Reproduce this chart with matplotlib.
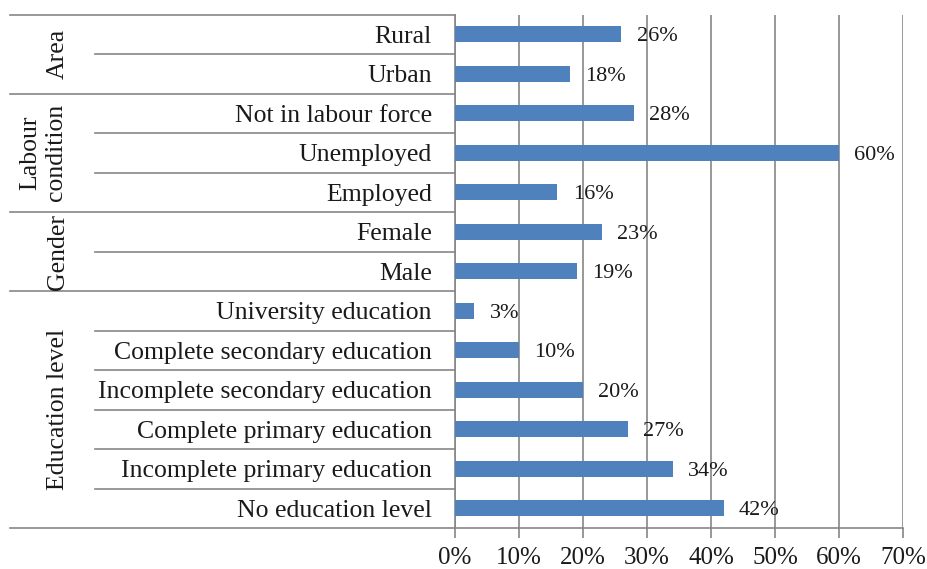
import matplotlib
matplotlib.use("Agg")
import matplotlib.pyplot as plt
from matplotlib.ticker import PercentFormatter
import matplotlib.transforms as mtransforms

plt.rcParams['font.family'] = ['Liberation Serif', 'DejaVu Serif']

categories = ["Rural", "Urban", "Not in labour force", "Unemployed", "Employed",
              "Female", "Male", "University education", "Complete secondary education",
              "Incomplete secondary education", "Complete primary education",
              "Incomplete primary education", "No education level"]
values = [26, 18, 28, 60, 16, 23, 19, 3, 10, 20, 27, 34, 42]
groups = ["Area", "Labour\ncondition", "Gender", "Education level"]
group_sizes = [2, 3, 2, 6]
xticks = [0, 10, 20, 30, 40, 50, 60, 70]

W, H = 928, 569
fig = plt.figure(figsize=(W / 100, H / 100), dpi=100)
ax_left, ax_right, ax_top, ax_bot = 455, 903, 14.5, 528
ax = fig.add_axes([ax_left / W, 1 - ax_bot / H, (ax_right - ax_left) / W, (ax_bot - ax_top) / H])

n = len(categories)
ypos = list(range(n))
bar_color = "#4F81BD"
grid_color = "#868686"
text_color = "#1a1a1a"
ax.barh(ypos, values, height=0.4, color=bar_color, zorder=3)
ax.set_ylim(n - 0.5, -0.5)
ax.set_xlim(0, 70)
ax.set_xticks(xticks)
ax.xaxis.set_major_formatter(PercentFormatter(decimals=0))
ax.tick_params(axis='x', length=7, color=grid_color, labelsize=18, pad=7,
               width=1.2, labelcolor=text_color)
ax.tick_params(axis='y', length=0)
ax.set_yticks([])
ax.grid(axis='x', color=grid_color, linewidth=1.2, zorder=0)
for s in ["top", "right"]:
    ax.spines[s].set_visible(False)
ax.spines["left"].set_color(grid_color)
ax.spines["left"].set_linewidth(1.2)
ax.spines["bottom"].set_color(grid_color)
ax.spines["bottom"].set_linewidth(1.2)

for y, v in zip(ypos, values):
    ax.annotate(f"{v}%", (v, y), xytext=(11, 0), textcoords="offset points",
                va="center_baseline", ha="left", fontsize=16, color=text_color)

# category labels
trans = mtransforms.blended_transform_factory(ax.transAxes, ax.transData)
ax_w = ax_right - ax_left
lab_x = (432 - ax_left) / ax_w
for y, c in zip(ypos, categories):
    ax.text(lab_x, y, c, transform=trans, ha="right", va="center_baseline",
            fontsize=18.5, color=text_color)

# separator lines
row_x0 = (95 - ax_left) / ax_w
grp_x0 = (10 - ax_left) / ax_w
group_bounds = [0]
for gs in group_sizes:
    group_bounds.append(group_bounds[-1] + gs)
for k in range(1, n):
    x0 = grp_x0 if k in group_bounds else row_x0
    ax.plot([x0, 0], [k - 0.5, k - 0.5], transform=trans, color=grid_color,
            linewidth=1.2, clip_on=False)
for yb in (-0.5, n - 0.5):
    ax.plot([grp_x0, 0], [yb, yb], transform=trans, color=grid_color,
            linewidth=1.2, clip_on=False)

# group labels
start = 0
for g, gs in zip(groups, group_sizes):
    center = start + (gs - 1) / 2
    gx = (58 - ax_left) / ax_w if "\n" not in g else (43 - ax_left) / ax_w
    ax.text(gx, center, g, transform=trans, rotation=90, ha="center", va="center",
            fontsize=18.5, color=text_color, multialignment="center", linespacing=1.2)
    start += gs

fig.savefig("out.png", dpi=100)
